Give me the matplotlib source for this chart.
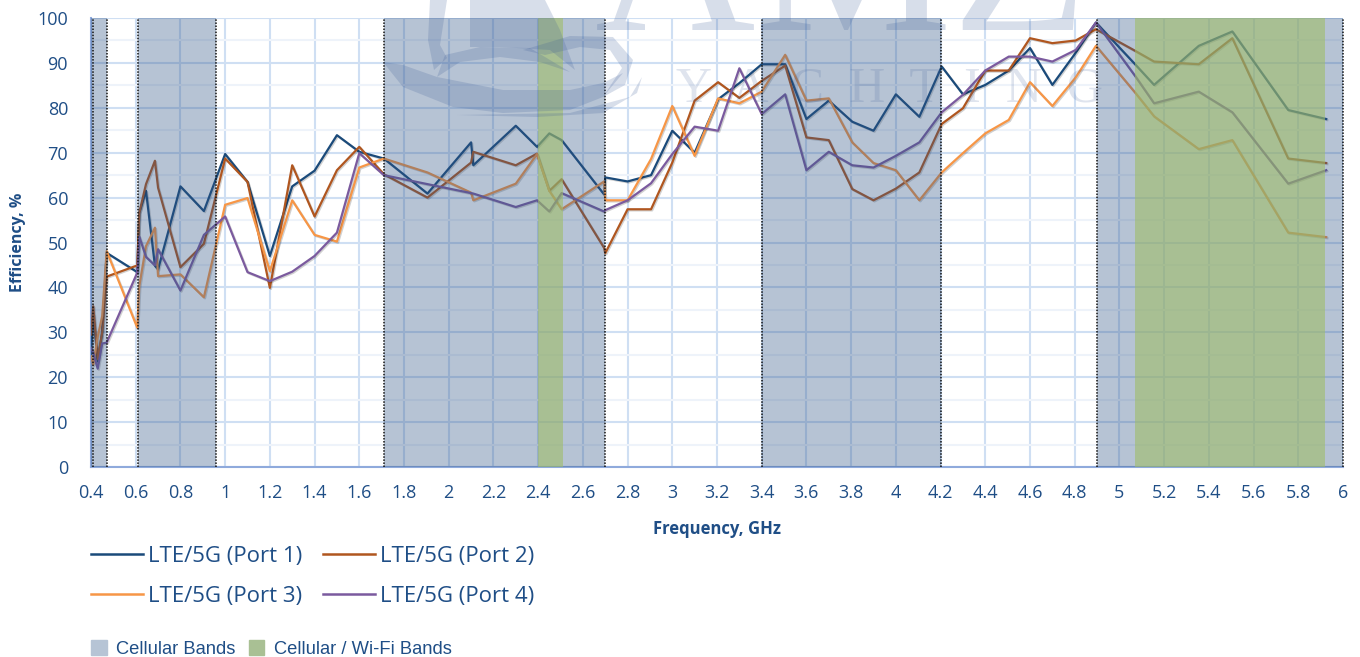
import matplotlib
matplotlib.use("Agg")
import matplotlib.pyplot as plt
import matplotlib.patheffects as pe
from matplotlib.lines import Line2D
from matplotlib.patches import Patch, Polygon

freq = [0.4, 0.41, 0.43, 0.45, 0.47, 0.607, 0.616, 0.646, 0.686, 0.7, 0.8, 0.905, 1.0, 1.1, 1.2,
        1.3, 1.4, 1.5, 1.6, 1.71, 1.905, 2.1, 2.11, 2.3, 2.395, 2.45, 2.505, 2.695, 2.7, 2.8,
        2.905, 3.0, 3.1, 3.205, 3.3, 3.4, 3.505, 3.6, 3.7, 3.805, 3.9, 4.0, 4.105, 4.205, 4.3,
        4.4, 4.505, 4.6, 4.7, 4.805, 4.895, 5.07, 5.155, 5.355, 5.505, 5.755, 5.925]

port1 = [25, 34, 23.5, 30, 47.7, 43.4, 56.6, 61.5, 44.8, 44, 62.5, 57, 69.7, 63.5, 47,
         62.5, 66, 73.9, 70.2, 68.7, 60.9, 72.3, 67.2, 76, 71.3, 74.3, 72.8, 60.7, 64.5, 63.6,
         65, 74.9, 70, 81.9, 85.5, 89.7, 89.7, 77.5, 81.6, 76.9, 74.9, 83, 78, 89.2, 83,
         85.1, 88.3, 93.3, 85.1, 92.3, 99, 89.7, 85.1, 93.8, 97, 79.5, 77.5]
port2 = [29.5, 35.8, 24, 30, 42.4, 44.9, 56.6, 63, 68.2, 62.2, 44.5, 49.7, 68.7, 63.5, 39.9,
         67.2, 55.8, 66.1, 71.3, 65.2, 60, 67.8, 70.2, 67.2, 69.8, 61.5, 64.1, 48.8, 47.6, 57.4,
         57.4, 67.8, 81.6, 85.7, 82.2, 86, 89.4, 73.4, 72.8, 61.9, 59.4, 62, 65.6, 76.4, 79.9,
         88.3, 88.3, 95.5, 94.4, 95, 97.5, 92.7, 90.3, 89.7, 95.5, 68.7, 67.7]
port3 = [24.7, 22.8, 29, 33.6, 48.1, 31, 40.3, 49.2, 53.3, 42.5, 42.9, 37.8, 58.4, 59.9, 43.6,
         59.4, 51.7, 50.2, 66.7, 68.7, 65.6, 61.1, 59.4, 63.1, 69.7, 61.5, 57.4, 63.6, 59.4, 59.4,
         68.6, 80.4, 69.3, 82.1, 81, 83.6, 91.8, 81.6, 82.1, 72.3, 67.7, 66.1, 59.4, 65.6, 69.9,
         74.3, 77.3, 85.7, 80.4, 86.8, 93.8, 83.4, 78.1, 70.8, 72.8, 52.2, 51.2]
port4 = [26.5, 25.4, 21.9, 27.5, 27.7, 43.3, 51.3, 46.8, 44.9, 48.5, 39.3, 51.7, 55.8, 43.4, 41.4,
         43.5, 47, 52.2, 69.9, 65, 63, 61, 60.9, 57.9, 59.4, 56.9, 61, 56.9, 57.2, 59.4,
         63.2, 69.7, 75.8, 74.9, 88.8, 78.6, 83, 66.1, 70.2, 67.2, 66.7, 69.3, 72.3, 79, 82.9,
         88.3, 91.4, 91.4, 90.3, 92.9, 99, 87.1, 81, 83.6, 79, 63.1, 66.1]

port_names = ["LTE/5G (Port 1)", "LTE/5G (Port 2)", "LTE/5G (Port 3)", "LTE/5G (Port 4)"]
port_colors = ["#1a4a7a", "#b0561f", "#f79646", "#7b5a9e"]

cellular = [(0.4, 0.47), (0.61, 0.96), (1.71, 2.7), (3.4, 4.2), (4.9, 6.0)]
wifi = [(2.4, 2.51), (5.07, 5.92)]
band_edges = [0.41, 0.47, 0.61, 0.96, 1.71, 2.7, 3.4, 4.2, 4.9, 6.0]

# rough outline of the logo swirl, in picture pixels
logo_shapes = [
    [(383, 62), (403, 65), (437, 77), (503, 90), (570, 90), (603, 83), (623, 73), (603, 97), (570, 110),
     (503, 113), (453, 107), (403, 87)],
    [(437, 77), (445, 55), (480, 47), (530, 48), (570, 72), (540, 62), (500, 57), (460, 62)],
    [(430, 0), (447, 0), (440, 45), (447, 58), (434, 70), (428, 40)],
    [(470, 0), (545, 0), (560, 30), (575, 70), (550, 50), (500, 47), (470, 47)],
    [(523, 50), (570, 36), (613, 37), (633, 60), (625, 85), (603, 97), (622, 68), (610, 50), (580, 47), (545, 55)],
    [(457, 115), (570, 113), (630, 97), (642, 77), (637, 93), (603, 113), (537, 117)],
]

text_col = "#1f4e86"
W, H = 1360, 657

fig = plt.figure(figsize=(W / 100, H / 100), dpi=100)
ax = fig.add_axes([91 / W, 1 - 467 / H, (1343 - 91) / W, (467 - 18) / H])

ax.set_xlim(0.4, 6)
ax.set_ylim(0, 100)
ax.set_xticks([0.4 + 0.2 * i for i in range(29)])
ax.set_xticklabels(["%g" % round(0.4 + 0.2 * i, 1) for i in range(29)])
ax.set_yticks(range(0, 101, 10))
ax.set_yticks(range(5, 100, 10), minor=True)
ax.set_axisbelow(True)
ax.grid(True, which="major", color="#cfdff3", lw=1.5)
ax.grid(True, which="minor", axis="y", color="#eef3fa", lw=1.5)
ax.tick_params(which="both", length=0)
ax.tick_params(axis="x", labelsize=13, labelcolor=text_col, pad=12.5)
ax.tick_params(axis="y", labelsize=13, labelcolor=text_col, pad=16.5)
for lab in ax.get_xticklabels() + ax.get_yticklabels():
    lab.set_family("Open Sans")
for s in ["top", "right"]:
    ax.spines[s].set_visible(False)
ax.spines["left"].set_color("#8faadc")
ax.spines["bottom"].set_color("#8faadc")
ax.spines["left"].set_linewidth(1.5)
ax.spines["bottom"].set_linewidth(1.5)

shadow = [pe.SimpleLineShadow(offset=(0.8, -0.8), alpha=0.18, shadow_color="#000000"), pe.Normal()]
for vals, name, col in zip([port1, port2, port3, port4], port_names, port_colors):
    ax.plot(freq, vals, color=col, lw=1.6, label=name, path_effects=shadow, zorder=3)

for a, b in cellular:
    ax.axvspan(a, b, color="#2f5586", alpha=0.35, lw=0, zorder=4)
for a, b in wifi:
    ax.axvspan(a, b, color="#a0bd69", alpha=0.6, lw=0, zorder=5)
for e in band_edges:
    ax.axvline(e, color="#111111", lw=1.1, ls=(0, (1, 1)), zorder=6, clip_on=False)

ax.set_xlabel("Frequency, GHz", fontsize=12, fontweight="bold", color=text_col, family="Open Sans", labelpad=13)
ax.set_ylabel("Efficiency, %", fontsize=11.5, fontweight="bold", color=text_col, family="Open Sans", labelpad=8)

# faint logo laid over the plot
wm = "#3a5a96"
fig.text(842 / W, 1 - 30 / H, "AMZ", fontsize=160, family="Liberation Serif", color=wm, alpha=0.2,
         ha="center", va="baseline", zorder=10)
fig.text(890 / W, 1 - 102 / H, "Y  A  C  H  T  I  N  G", fontsize=36, family="Liberation Serif", color=wm,
         alpha=0.16, ha="center", va="baseline", zorder=10)
for shape in logo_shapes:
    pts = [(x / W, 1 - y / H) for x, y in shape]
    fig.add_artist(Polygon(pts, closed=True, fc=wm, ec="none", alpha=0.2, transform=fig.transFigure, zorder=10))

line_handles = [Line2D([], [], color=c, lw=1.8) for c in port_colors]
# legend fills column by column, reference reads row by row
order = [0, 2, 1, 3]
leg = fig.legend([line_handles[i] for i in order], [port_names[i] for i in order], loc="upper left",
                 bbox_to_anchor=(91 / W, 1 - 546 / H), ncol=2, frameon=False, handlelength=2.35,
                 handletextpad=0.2, columnspacing=0.95, labelspacing=0.85, borderpad=0, borderaxespad=0,
                 prop={"family": "Open Sans", "size": 16})
for t in leg.get_texts():
    t.set_color(text_col)

patch_handles = [Patch(color="#b6c4d5"), Patch(color="#a9c094")]
leg2 = fig.legend(patch_handles, ["Cellular Bands", "Cellular / Wi-Fi Bands"], loc="upper left",
                  bbox_to_anchor=(91 / W, 1 - 640 / H), ncol=2, frameon=False, handlelength=0.85, handleheight=0.85,
                  handletextpad=0.5, columnspacing=0.75, borderpad=0, borderaxespad=0,
                  prop={"family": "Liberation Sans", "size": 13.2})
for t in leg2.get_texts():
    t.set_color(text_col)

fig.savefig("out.png", dpi=100)
